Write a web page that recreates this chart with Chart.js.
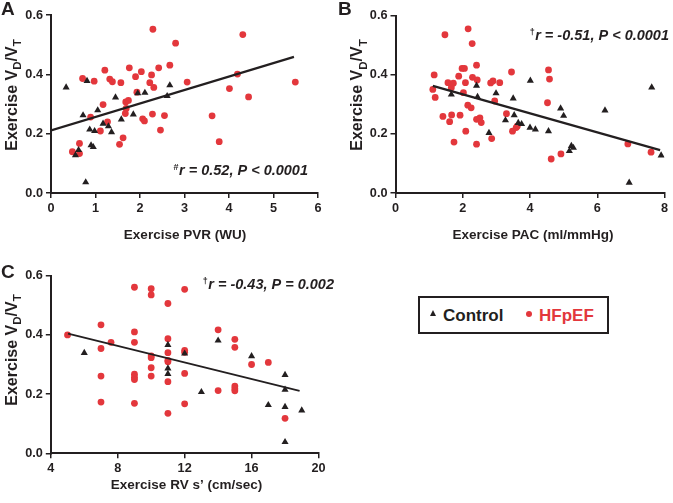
<!DOCTYPE html>
<html>
<head>
<meta charset="utf-8">
<script src="https://cdn.jsdelivr.net/npm/chart.js@4.4.1/dist/chart.umd.min.js"></script>
<style>
  body { margin: 0; background: #fff; width: 673px; height: 503px; position: relative; overflow: hidden;
         font-family: "Liberation Sans", Arial, sans-serif; color: #231f20; }
  canvas { position: absolute; }
  #legendBox { position: absolute; left: 418px; top: 296px; width: 191px; height: 38px;
               border: 2px solid #231f20; box-sizing: border-box; }
  .lg { position: absolute; font-weight: bold; font-size: 17px; line-height: 17px; }
  #triMark { position: absolute; left: 430px; top: 310px; width: 0; height: 0;
             border-left: 3.6px solid transparent; border-right: 3.6px solid transparent;
             border-bottom: 6.5px solid #231f20; }
  #dotMark { position: absolute; left: 526px; top: 311px; width: 6px; height: 6px;
             border-radius: 50%; background: #e3373c; }
</style>
</head>
<body>
<canvas id="chartA" width="336" height="250" style="left:0;top:0"></canvas>
<canvas id="chartB" width="337" height="250" style="left:336px;top:0"></canvas>
<canvas id="chartC" width="336" height="253" style="left:0;top:250px"></canvas>

<div id="legendBox"></div>
<div id="triMark"></div>
<div class="lg" style="left:443px;top:307px">Control</div>
<div id="dotMark"></div>
<div class="lg" style="left:539px;top:307px;color:#e3373c">HFpEF</div>

<script>
const INK = "#231f20";
const RED = "#e3373c";

// Panel A: exercise PVR (WU) vs exercise VD/VT
const aControlX = [0.34, 0.81, 0.72, 1.05, 0.87, 0.98, 0.90, 0.95, 0.55, 0.62, 0.78, 1.17, 1.29, 1.36, 1.45, 1.58, 1.85, 1.95, 2.11, 2.61, 2.67];
const aControlY = [0.356, 0.378, 0.262, 0.279, 0.214, 0.209, 0.161, 0.155, 0.127, 0.145, 0.036, 0.234, 0.225, 0.205, 0.322, 0.248, 0.265, 0.336, 0.338, 0.327, 0.363];
const aHfX = [0.48, 0.64, 0.64, 0.71, 0.97, 0.89, 1.21, 1.17, 1.11, 1.27, 1.32, 1.38, 1.57, 1.54, 1.62, 1.68, 1.74, 1.69, 1.67, 1.76, 1.90, 1.93, 2.03, 2.06, 2.10, 2.22, 2.26, 2.31, 2.29, 2.28, 2.42, 2.46, 2.67, 2.55, 2.80, 3.06, 3.62, 3.78, 4.01, 4.19, 4.31, 4.44, 5.49];
const aHfY = [0.139, 0.167, 0.133, 0.386, 0.377, 0.256, 0.414, 0.298, 0.209, 0.240, 0.384, 0.375, 0.372, 0.164, 0.186, 0.307, 0.312, 0.285, 0.268, 0.422, 0.392, 0.340, 0.409, 0.250, 0.243, 0.372, 0.398, 0.356, 0.552, 0.266, 0.422, 0.212, 0.431, 0.261, 0.505, 0.374, 0.260, 0.173, 0.352, 0.401, 0.534, 0.324, 0.374];
const aFitX = [0, 5.46];
const aFitY = [0.211, 0.459];

// Panel B: exercise PAC (ml/mmHg)
const bControlX = [1.66, 2.41, 2.44, 2.78, 2.99, 3.27, 3.50, 3.53, 3.65, 3.75, 4.01, 4.00, 4.16, 4.55, 4.91, 5.00, 5.17, 5.23, 5.29, 6.23, 6.95, 7.62, 7.90];
const bControlY = [0.333, 0.363, 0.325, 0.203, 0.337, 0.246, 0.320, 0.263, 0.237, 0.233, 0.380, 0.221, 0.215, 0.209, 0.286, 0.261, 0.142, 0.159, 0.153, 0.279, 0.035, 0.357, 0.127];
const bHfX = [1.11, 1.15, 1.18, 1.47, 1.41, 1.56, 1.66, 1.72, 1.61, 1.67, 1.74, 1.88, 1.92, 1.98, 2.05, 2.02, 2.08, 2.09, 2.16, 2.15, 2.25, 2.28, 2.29, 2.41, 2.43, 2.41, 2.51, 2.55, 2.41, 2.83, 2.90, 2.95, 2.86, 3.10, 3.30, 3.45, 3.48, 3.59, 3.62, 4.55, 4.58, 4.52, 4.63, 4.92, 6.91, 7.60];
const bHfY = [0.350, 0.399, 0.323, 0.535, 0.259, 0.373, 0.356, 0.371, 0.241, 0.264, 0.172, 0.395, 0.263, 0.421, 0.421, 0.339, 0.373, 0.209, 0.555, 0.297, 0.288, 0.505, 0.391, 0.432, 0.382, 0.249, 0.254, 0.238, 0.165, 0.372, 0.379, 0.311, 0.184, 0.373, 0.268, 0.409, 0.209, 0.221, 0.226, 0.416, 0.385, 0.305, 0.115, 0.132, 0.166, 0.138];
const bFitX = [1.11, 7.87];
const bFitY = [0.362, 0.145];

// Panel C: exercise RV s' (cm/sec)
const cControlX = [6, 11, 11, 11, 12, 13, 14, 16, 17, 18, 18, 18, 18, 19];
const cControlY = [0.339, 0.366, 0.287, 0.268, 0.337, 0.207, 0.381, 0.328, 0.163, 0.265, 0.215, 0.157, 0.038, 0.145];
const cHfX = [5, 7, 7, 7, 7, 7.6, 9, 9, 9, 9, 9, 9, 9, 10, 10, 10, 10, 10, 10, 11, 11, 11, 11, 11, 11, 11, 12, 12, 12, 12, 12, 14, 14, 15, 15, 15, 15, 15, 16, 17, 18];
const cHfY = [0.400, 0.434, 0.354, 0.261, 0.173, 0.375, 0.561, 0.410, 0.375, 0.267, 0.257, 0.249, 0.169, 0.556, 0.535, 0.329, 0.323, 0.289, 0.261, 0.506, 0.387, 0.340, 0.314, 0.309, 0.242, 0.135, 0.554, 0.348, 0.341, 0.270, 0.167, 0.417, 0.212, 0.385, 0.358, 0.227, 0.218, 0.211, 0.300, 0.307, 0.118];
const cFitX = [5.03, 18.87];
const cFitY = [0.404, 0.211];

const FONT = '"Liberation Sans", Arial, sans-serif';

function toPoints(xs, ys) {
  return xs.map((x, i) => ({ x: x, y: ys[i] }));
}

// y title "Exercise VD/VT" with subscripts, rotated
function drawYTitle(ctx, x, y) {
  const parts = [["Exercise V", false], ["D", true], ["/V", false], ["T", true]];
  const big = "bold 16px " + FONT;
  const small = "bold 11.5px " + FONT;
  let total = 0;
  parts.forEach((p) => {
    ctx.font = p[1] ? small : big;
    total += ctx.measureText(p[0]).width;
  });
  ctx.save();
  ctx.translate(x, y);
  ctx.rotate(-Math.PI / 2);
  ctx.textAlign = "left";
  ctx.textBaseline = "alphabetic";
  let cx = -total / 2;
  parts.forEach((p) => {
    ctx.font = p[1] ? small : big;
    ctx.fillText(p[0], cx, p[1] ? 4.5 : 0);
    cx += ctx.measureText(p[0]).width;
  });
  ctx.restore();
}

// the "#r = ..., P ..." note, right aligned
function drawStat(ctx, mark, text, right, y) {
  ctx.textAlign = "left";
  ctx.textBaseline = "alphabetic";
  ctx.font = "italic bold 14.5px " + FONT;
  const w = ctx.measureText(text).width;
  ctx.fillText(text, right - w, y);
  ctx.font = "bold 9px " + FONT;
  const mw = ctx.measureText(mark).width;
  ctx.fillText(mark, right - w - mw - 0.5, y - 5);
}

const panelText = {
  id: "panelText",
  afterDraw(chart, args, opts) {
    const ctx = chart.ctx;
    ctx.save();
    ctx.fillStyle = INK;
    ctx.textBaseline = "alphabetic";

    ctx.font = "bold 19px " + FONT;
    ctx.textAlign = "left";
    ctx.fillText(opts.letter, opts.letterX, opts.letterY);

    ctx.font = "bold 13.5px " + FONT;
    ctx.textAlign = "center";
    ctx.fillText(opts.xTitle, opts.xTitleX, opts.xTitleY);

    drawYTitle(ctx, opts.yTitleX, opts.yTitleY);
    drawStat(ctx, opts.mark, opts.stat, opts.statRight, opts.statY);
    ctx.restore();
  },
};

function makePanel(id, p) {
  const tickFont = { family: FONT, size: 12.7, weight: "bold" };
  const grid = { drawOnChartArea: false, drawTicks: true, tickLength: 5, color: INK, lineWidth: 1.5 };
  const border = { display: true, color: INK, width: 2 };

  new Chart(document.getElementById(id), {
    type: "scatter",
    data: {
      datasets: [
        {
          label: "fit",
          data: toPoints(p.fitX, p.fitY),
          showLine: true,
          pointRadius: 0,
          borderColor: INK,
          borderWidth: p.fitWidth,
          order: 0,
        },
        {
          label: "Control",
          data: toPoints(p.ctrlX, p.ctrlY),
          pointStyle: "triangle",
          pointRadius: 4.1,
          pointBackgroundColor: INK,
          pointBorderWidth: 0,
          order: 1,
        },
        {
          label: "HFpEF",
          data: toPoints(p.hfX, p.hfY),
          pointStyle: "circle",
          pointRadius: 3.4,
          pointBackgroundColor: RED,
          pointBorderWidth: 0,
          order: 2,
        },
      ],
    },
    options: {
      responsive: false,
      animation: false,
      events: [],
      layout: { padding: { top: p.padTop, right: p.padRight, left: 0, bottom: 0 } },
      plugins: {
        legend: { display: false },
        tooltip: { enabled: false },
        panelText: p.text,
      },
      scales: {
        x: {
          type: "linear",
          min: p.xMin,
          max: p.xMax,
          grid: grid,
          border: border,
          ticks: { stepSize: p.xStep, font: tickFont, color: INK, padding: 3, maxRotation: 0, autoSkip: false },
          afterFit: (s) => { s.height = p.xAxisH; },
        },
        y: {
          min: 0,
          max: 0.6,
          grid: grid,
          border: border,
          ticks: {
            stepSize: 0.2,
            font: tickFont,
            color: INK,
            padding: 3,
            callback: (v) => v.toFixed(1),
          },
          afterFit: (s) => { s.width = p.yAxisW; },
        },
      },
    },
    plugins: [panelText],
  });
}

makePanel("chartA", {
  ctrlX: aControlX, ctrlY: aControlY, hfX: aHfX, hfY: aHfY, fitX: aFitX, fitY: aFitY, fitWidth: 2.2,
  xMin: 0, xMax: 6, xStep: 1,
  padTop: 15, padRight: 18, yAxisW: 51, xAxisH: 57,
  text: {
    letter: "A", letterX: 1, letterY: 15,
    xTitle: "Exercise PVR (WU)", xTitleX: 185, xTitleY: 239,
    yTitleX: 16.5, yTitleY: 95,
    mark: "#", stat: "r = 0.52, P < 0.0001", statRight: 308, statY: 175,
  },
});

makePanel("chartB", {
  ctrlX: bControlX, ctrlY: bControlY, hfX: bHfX, hfY: bHfY, fitX: bFitX, fitY: bFitY, fitWidth: 2.2,
  xMin: 0, xMax: 8, xStep: 2,
  padTop: 15.5, padRight: 8.5, yAxisW: 59.5, xAxisH: 57,
  text: {
    letter: "B", letterX: 2, letterY: 15,
    xTitle: "Exercise PAC (ml/mmHg)", xTitleX: 197, xTitleY: 239,
    yTitleX: 26, yTitleY: 95,
    mark: "\u2020", stat: "r = -0.51, P < 0.0001", statRight: 333, statY: 40,
  },
});

makePanel("chartC", {
  ctrlX: cControlX, ctrlY: cControlY, hfX: cHfX, hfY: cHfY, fitX: cFitX, fitY: cFitY, fitWidth: 1.8,
  xMin: 4, xMax: 20, xStep: 4,
  padTop: 25.7, padRight: 17.5, yAxisW: 50.8, xAxisH: 49.7,
  text: {
    letter: "C", letterX: 1, letterY: 27.7,
    xTitle: "Exercise RV s\u2019 (cm/sec)", xTitleX: 186.5, xTitleY: 239,
    yTitleX: 16.5, yTitleY: 100,
    mark: "\u2020", stat: "r = -0.43, P = 0.002", statRight: 334, statY: 39,
  },
});
</script>
</body>
</html>
